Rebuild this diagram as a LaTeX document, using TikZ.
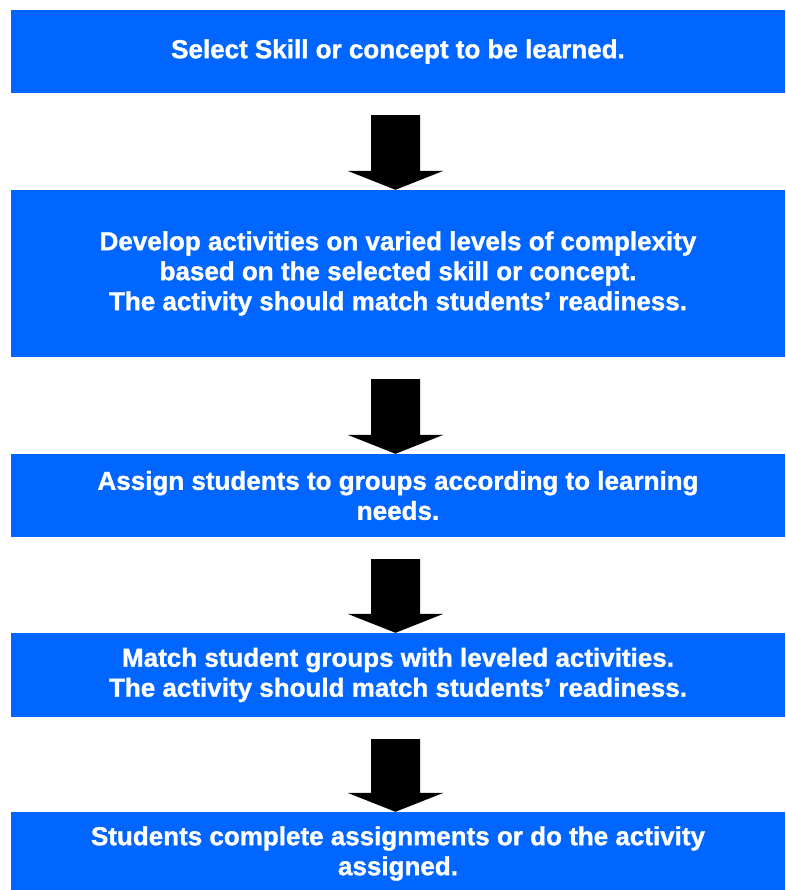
\documentclass[tikz,border=0pt]{standalone}
\usepackage{fontspec}
\setmainfont{Liberation Sans}[BoldFeatures={FakeBold=1.2}]
\usetikzlibrary{calc}
\definecolor{boxblue}{HTML}{0066FF}
\tikzset{
  stepbox/.style={fill=boxblue,text=white,inner sep=0pt,minimum width=774pt,
    align=center,font=\fontsize{26}{30}\selectfont\bfseries},
}
\begin{document}
\begin{tikzpicture}[x=1pt,y=-1pt]
\useasboundingbox (0,0) rectangle (785,890);
\node[stepbox,minimum height=83pt] (sel) at (398,51.5) {Select Skill or concept to be learned.};
\node[stepbox,minimum height=167pt] (dev) at (398,273.5) {Develop activities on varied levels of complexity\\
  based on the selected skill or concept.\\
  The activity should match students’ readiness.};
\node[stepbox,minimum height=83pt] (asg) at (398,495.5) {Assign students to groups according to learning\\ needs.};
\node[stepbox,minimum height=84pt] (mat) at (398,675) {Match student groups with leveled activities.\\
  The activity should match students’ readiness.};
\node[stepbox,minimum height=83pt] (stu) at (398,853.5) {Students complete assignments or do the activity\\ assigned.};
\foreach \a/\b in {sel/dev,dev/asg,asg/mat,mat/stu}
  \fill ($(\a.south)+(-27,22)$) -- ($(\a.south)+(22,22)$) -- ($(\b.north)+(22,-19)$)
    -- ($(\b.north)+(45.5,-19)$) -- ($(\b.north)+(-2.5,0)$) -- ($(\b.north)+(-50.5,-19)$)
    -- ($(\b.north)+(-27,-19)$) -- cycle;
\end{tikzpicture}
\end{document}
